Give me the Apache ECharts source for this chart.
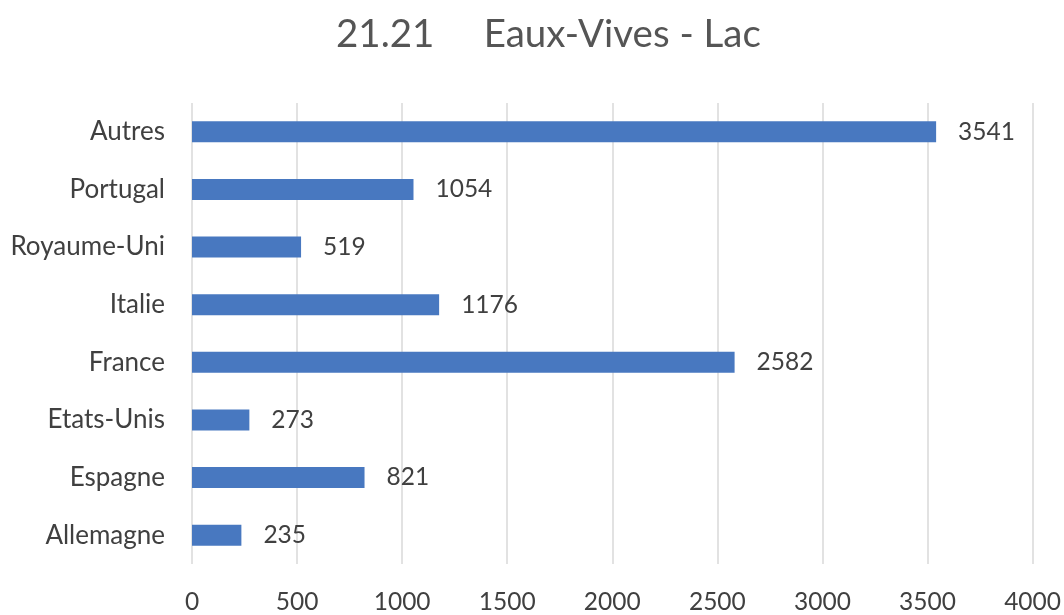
<!DOCTYPE html>
<html><head><meta charset="utf-8">
<script src="https://cdn.jsdelivr.net/npm/echarts@6/dist/echarts.min.js"></script>
<style>html,body{margin:0;padding:0;background:#fff}#c{width:1064px;height:615px}</style>
</head><body><div id="c"></div>
<script>
const categories = ['Allemagne','Espagne','Etats-Unis','France','Italie','Royaume-Uni','Portugal','Autres'];
const values = [235, 821, 273, 2582, 1176, 519, 1054, 3541];
const xTicks = [0,500,1000,1500,2000,2500,3000,3500,4000];
const titleText = '21.21     Eaux-Vives - Lac';

const FONT = 'Lato';
const TXT = '#404040';
const chart = echarts.init(document.getElementById('c'), null, {renderer:'canvas'});
chart.setOption({
  animation:false,
  backgroundColor:'#fff',
  title:{text:titleText,left:331,top:10,textStyle:{fontFamily:FONT,fontSize:38.5,fontWeight:'normal',color:'#555555'}},
  grid:{left:192,right:28,top:103,bottom:47,containLabel:false},
  xAxis:{type:'value',min:0,max:4000,interval:500,
    axisLine:{show:false},axisTick:{show:false},
    splitLine:{lineStyle:{color:'#d9d9d9',width:1.5}},
    axisLabel:{margin:26,fontFamily:FONT,fontSize:24.5,color:TXT,
      formatter:v=>xTicks.includes(v)?String(v):''}},
  yAxis:{type:'category',data:categories,
    axisLine:{show:false},axisTick:{show:false},
    axisLabel:{margin:27,fontFamily:FONT,fontSize:26,color:TXT,padding:[4,0,0,0]}},
  series:[{type:'bar',data:values,barWidth:21,
    itemStyle:{color:'#4878C0'},
    label:{show:true,position:'right',distance:22,fontFamily:FONT,fontSize:24.5,color:TXT,padding:[4,0,0,0]}}]
});
</script></body></html>
